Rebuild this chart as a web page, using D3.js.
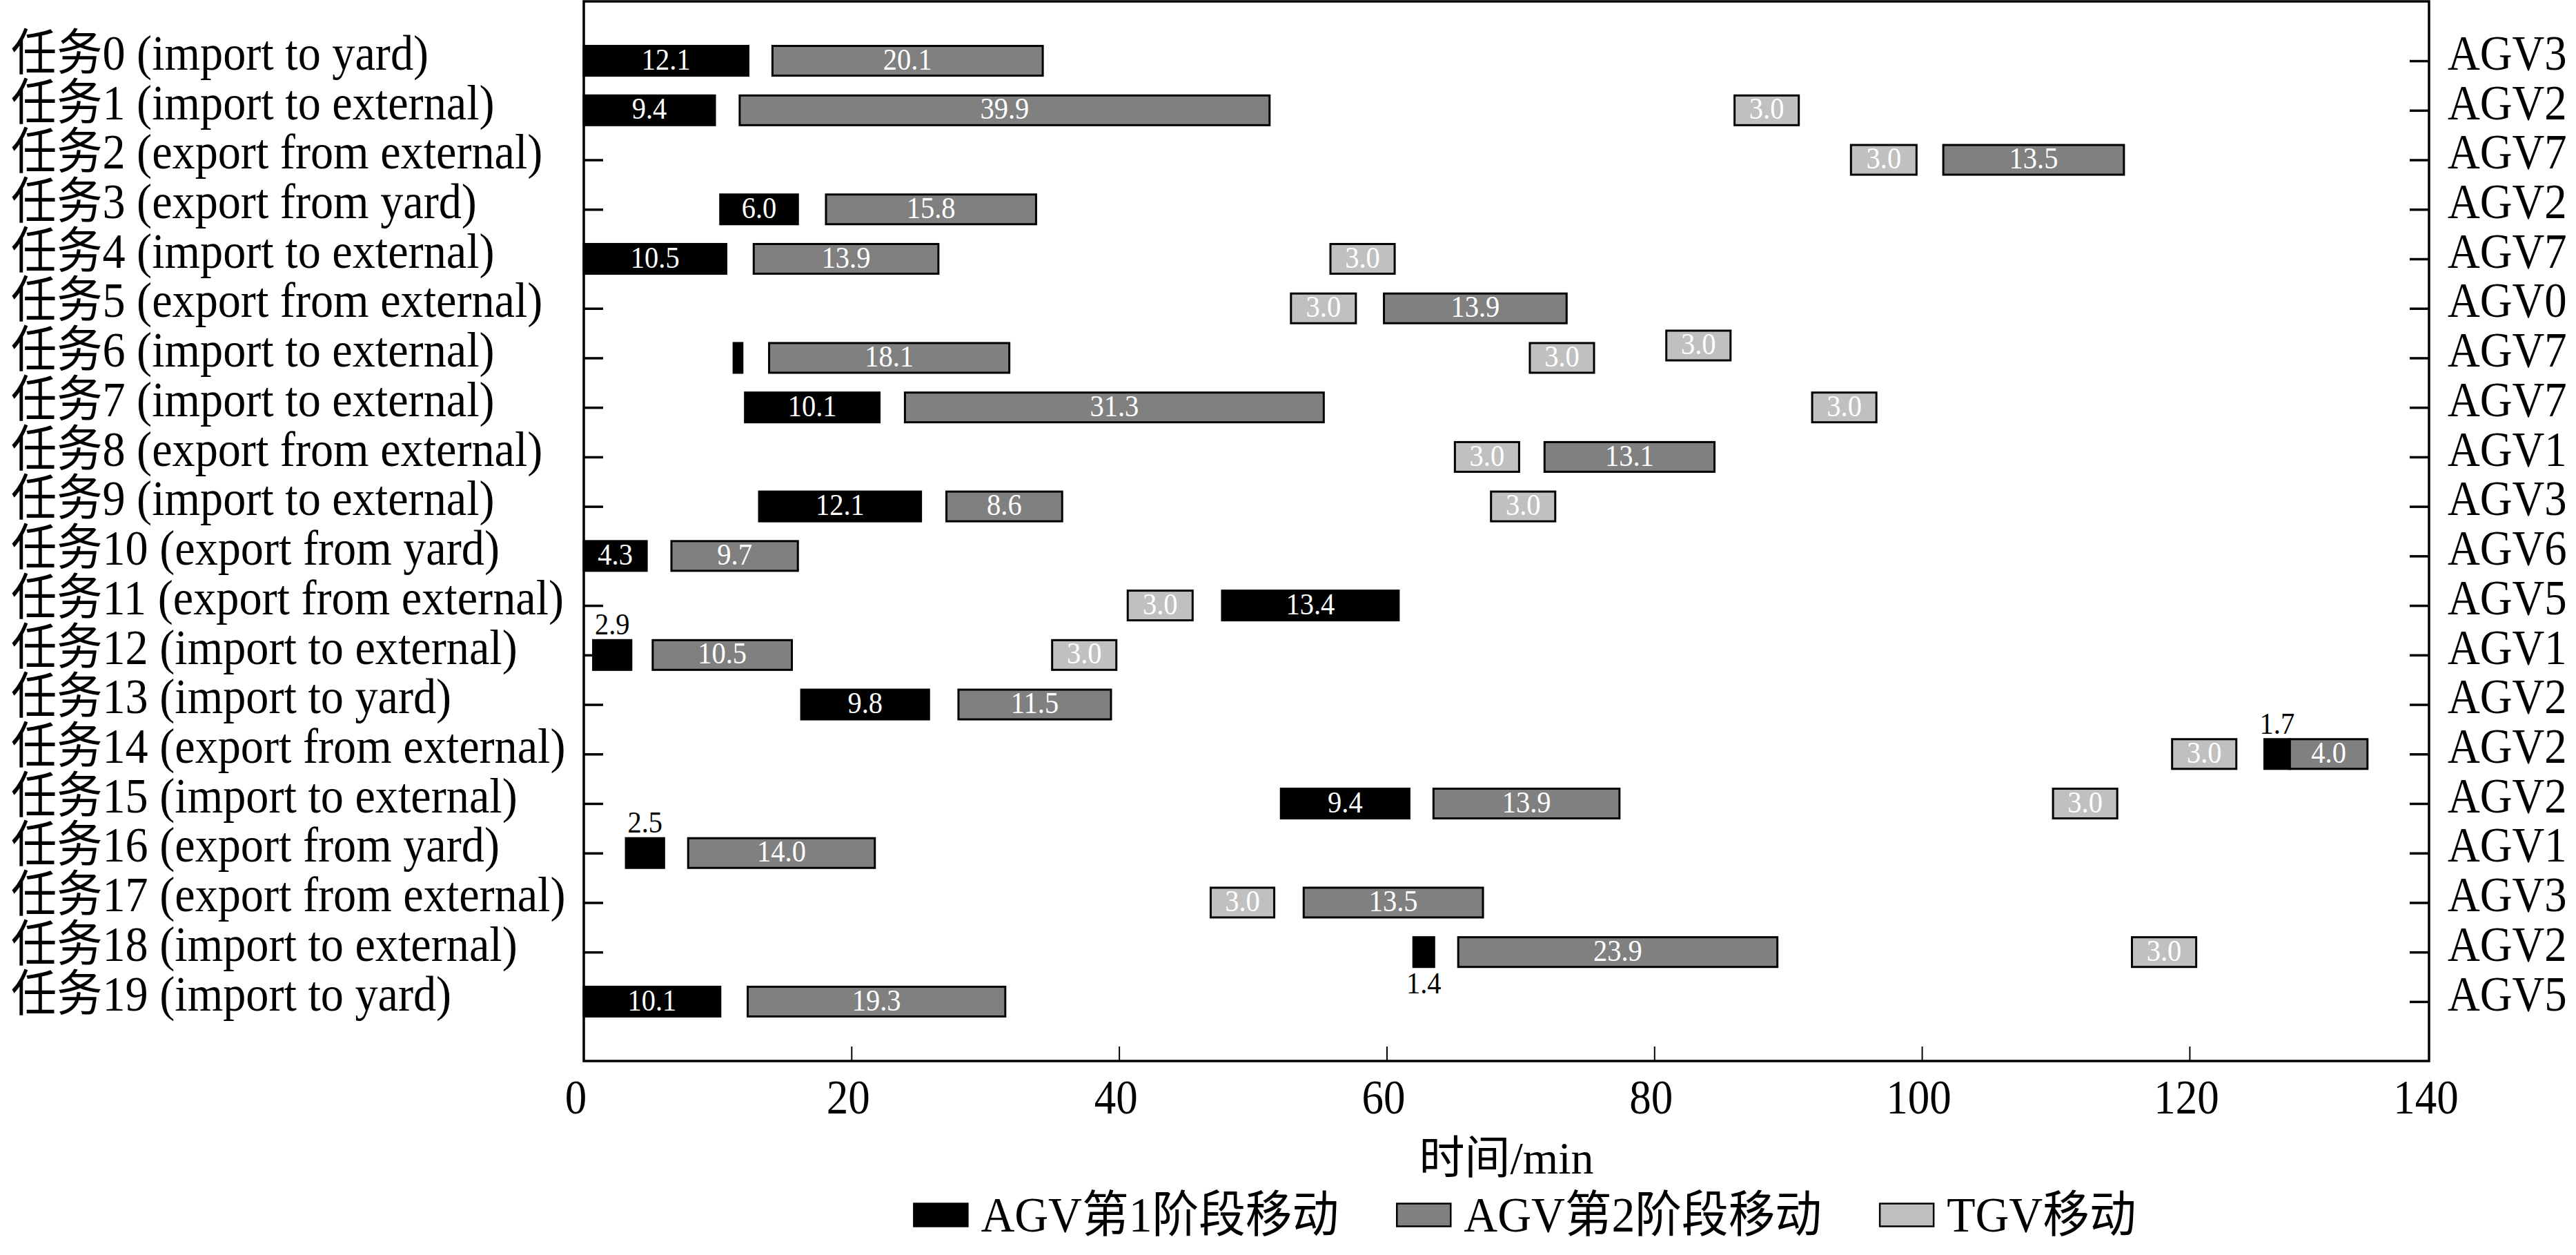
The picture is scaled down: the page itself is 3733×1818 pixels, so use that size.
<!DOCTYPE html>
<html>
<head>
<meta charset="utf-8">
<script src="https://cdn.jsdelivr.net/npm/d3@7"></script>
<style>
  body { margin: 0; background: #fff; }
</style>
</head>
<body>
<svg id="chart"></svg>
<script>
// row labels, top to bottom
const tasks = [
  '任务0 (import to yard)', '任务1 (import to external)', '任务2 (export from external)',
  '任务3 (export from yard)', '任务4 (import to external)', '任务5 (export from external)',
  '任务6 (import to external)', '任务7 (import to external)', '任务8 (export from external)',
  '任务9 (import to external)', '任务10 (export from yard)', '任务11 (export from external)',
  '任务12 (import to external)', '任务13 (import to yard)', '任务14 (export from external)',
  '任务15 (import to external)', '任务16 (export from yard)', '任务17 (export from external)',
  '任务18 (import to external)', '任务19 (import to yard)'
]
const agvs = [
  'AGV3', 'AGV2', 'AGV7', 'AGV2', 'AGV7', 'AGV0', 'AGV7', 'AGV7', 'AGV1', 'AGV3',
  'AGV6', 'AGV5', 'AGV1', 'AGV2', 'AGV2', 'AGV2', 'AGV1', 'AGV3', 'AGV2', 'AGV5'
]

// [task, start, end, label, lane shift]
const stage1 = [
  [0, 0, 12.3, 12.1], [1, 0, 9.8, 9.4], [3, 10.2, 16.0, 6.0], [4, 0, 10.65, 10.5],
  [6, 11.2, 11.85, null], [7, 12.05, 22.1, 10.1], [9, 13.1, 25.2, 12.1], [10, 0, 4.7, 4.3],
  [11, 47.7, 60.9, 13.4], [12, 0.7, 3.55, 2.9], [13, 16.25, 25.8, 9.8], [14, 125.6, 127.5, 1.7],
  [15, 52.1, 61.7, 9.4], [16, 3.15, 6.0, 2.5], [18, 62.0, 63.55, 1.4], [19, 0, 10.2, 10.1]
]
const stage2 = [
  [0, 14.1, 34.3, 20.1], [1, 11.65, 51.25, 39.9], [2, 101.6, 115.1, 13.5], [3, 18.1, 33.8, 15.8],
  [4, 12.7, 26.5, 13.9], [5, 59.8, 73.45, 13.9], [6, 13.85, 31.8, 18.1], [7, 24.0, 55.3, 31.3],
  [8, 71.8, 84.5, 13.1], [9, 27.1, 35.75, 8.6], [10, 6.55, 16.0, 9.7], [12, 5.15, 15.55, 10.5],
  [13, 28.0, 39.4, 11.5], [14, 127.5, 133.3, 4.0], [15, 63.5, 77.4, 13.9], [16, 7.8, 21.75, 14.0],
  [17, 53.8, 67.2, 13.5], [18, 65.35, 89.2, 23.9], [19, 12.25, 31.5, 19.3]
]
const tgv = [
  [1, 86.0, 90.8, 3.0], [2, 94.7, 99.6, 3.0], [4, 55.8, 60.6, 3.0], [5, 52.85, 57.7, 3.0],
  [6, 70.7, 75.5, 3.0], [6, 80.9, 85.7, 3.0, -0.25], [7, 91.8, 96.6, 3.0], [8, 65.1, 69.9, 3.0],
  [9, 67.8, 72.6, 3.0], [11, 40.65, 45.5, 3.0], [12, 35.0, 39.8, 3.0], [14, 118.7, 123.5, 3.0],
  [15, 109.8, 114.6, 3.0], [17, 46.85, 51.6, 3.0], [18, 115.7, 120.5, 3.0]
]

const xTicks = [0, 20, 40, 60, 80, 100, 120]
const xEnd = 137.9
const xEndLabel = '140'
const xTitle = '时间/min'
const legendNames = ['AGV第1阶段移动', 'AGV第2阶段移动', 'TGV移动']
const colors = ['#000000', '#808080', '#c0c0c0']

const W = 3733
const H = 1818
const plot = { left: 846, right: 3520, top: 2, bottom: 1537 }
const serif = '"Liberation Serif", "Times New Roman", "Noto Sans CJK SC", serif'
const squeezeX = 0.9

const svg = d3.select('#chart')
  .attr('width', W)
  .attr('height', H)
  .attr('font-family', serif)
svg.append('rect').attr('width', W).attr('height', H).attr('fill', '#fff')

const x = d3.scaleLinear().domain([0, xEnd]).range([plot.left, plot.right])
const y = d3.scaleLinear().domain([-1.2, 20.2]).range([plot.top, plot.bottom])
const barH = y(0.6) - y(0)

// narrow the serif text a little, the original face is condensed
function squeeze (sel, sx) {
  sel.each(function () {
    const t = d3.select(this)
    const tx = +t.attr('x') || 0
    const ty = +t.attr('y') || 0
    t.attr('x', 0).attr('y', 0)
      .attr('transform', `translate(${tx},${ty}) scale(${sx},1)`)
  })
}

const series = [stage1, stage2, tgv]
const segments = []
series.forEach((s, k) => s.forEach(d => segments.push({
  task: d[0], start: d[1], end: d[2], label: d[3], lane: d[0] + (d[4] || 0), kind: k
})))

// draw bars
const bars = svg.append('g').attr('class', 'bars')
bars.selectAll('rect').data(segments).enter().append('rect')
  .attr('x', d => x(d.start))
  .attr('y', d => y(d.lane) - barH / 2)
  .attr('width', d => x(d.end) - x(d.start))
  .attr('height', barH)
  .attr('fill', d => colors[d.kind])
  .attr('stroke', '#000')
  .attr('stroke-width', 3)

// short bars get their label above, or below when the row above is busy there
function labelSide (d) {
  const mid = (d.start + d.end) / 2
  const busy = segments.some(o => o.task === d.task - 1 && o.start <= mid && o.end >= mid)
  return busy ? 'below' : 'above'
}

const labels = svg.append('g').attr('class', 'bar-labels')
  .attr('font-size', 45)
  .attr('text-anchor', 'middle')
segments.filter(d => d.label !== null).forEach(d => {
  const cx = x((d.start + d.end) / 2)
  const cy = y(d.lane)
  const t = labels.append('text').text(d.label.toFixed(1))
  if (d.end - d.start >= 3) {
    t.attr('x', cx).attr('y', cy).attr('dy', '0.28em').attr('fill', '#fff')
  } else if (labelSide(d) === 'above') {
    t.attr('x', cx).attr('y', cy - barH / 2 - 8).attr('fill', '#000')
  } else {
    t.attr('x', cx).attr('y', cy + barH / 2 + 38).attr('fill', '#000')
  }
})
squeeze(labels.selectAll('text'), squeezeX)

// left axis: task names
const yLeft = svg.append('g')
  .attr('transform', `translate(${plot.left},0)`)
  .call(d3.axisLeft(y).tickValues(d3.range(tasks.length)).tickSize(-28).tickFormat(i => tasks[i]))
yLeft.select('.domain').remove()
yLeft.attr('font-family', serif).attr('font-size', 72)
yLeft.selectAll('line').attr('stroke', '#000').attr('stroke-width', 3.5)
yLeft.selectAll('text')
  .attr('text-anchor', 'start')
  .attr('x', 16 - plot.left)
  .attr('dy', '0.17em')
  .attr('fill', '#000')
squeeze(yLeft.selectAll('text'), 0.92)

// right axis: vehicle names
const yRight = svg.append('g')
  .attr('transform', `translate(${plot.right},0)`)
  .call(d3.axisRight(y).tickValues(d3.range(agvs.length)).tickSize(-28).tickFormat(i => agvs[i]))
yRight.select('.domain').remove()
yRight.attr('font-family', serif).attr('font-size', 72)
yRight.selectAll('line').attr('stroke', '#000').attr('stroke-width', 3.5)
yRight.selectAll('text')
  .attr('text-anchor', 'start')
  .attr('x', 27)
  .attr('dy', '0.17em')
  .attr('fill', '#000')
squeeze(yRight.selectAll('text'), squeezeX)

// bottom axis
const xAxis = svg.append('g')
  .attr('transform', `translate(0,${plot.bottom})`)
  .call(d3.axisBottom(x).tickValues([...xTicks, xEnd]).tickSize(-21)
    .tickFormat(d => d === xEnd ? xEndLabel : d))
xAxis.select('.domain').remove()
xAxis.attr('font-family', serif).attr('font-size', 70)
xAxis.selectAll('line').attr('stroke', '#000').attr('stroke-width', 2)
  .filter(d => d === xEnd || d === 0).remove()
xAxis.selectAll('text').attr('x', -5).attr('y', 76).attr('dy', null).attr('fill', '#000')
xAxis.selectAll('.tick').filter(d => d === 0).select('text').attr('x', -12)
squeeze(xAxis.selectAll('text'), squeezeX)

// frame
svg.append('rect')
  .attr('x', plot.left)
  .attr('y', plot.top)
  .attr('width', plot.right - plot.left)
  .attr('height', plot.bottom - plot.top)
  .attr('fill', 'none')
  .attr('stroke', '#000')
  .attr('stroke-width', 3.5)

// axis title
svg.append('text')
  .attr('x', (plot.left + plot.right) / 2)
  .attr('y', 1700)
  .attr('text-anchor', 'middle')
  .attr('font-size', 66)
  .text(xTitle)

// legend
const legend = svg.append('g').attr('class', 'legend').attr('font-size', 72)
const boxW = 78
const boxH = 33
const legendY = 1760
const legendSqueeze = 0.94
let lx = 0
legendNames.forEach((name, k) => {
  const g = legend.append('g')
  g.append('rect')
    .attr('x', lx).attr('y', legendY - boxH / 2)
    .attr('width', boxW).attr('height', boxH)
    .attr('fill', colors[k])
    .attr('stroke', '#000').attr('stroke-width', 2.5)
  const t = g.append('text')
    .attr('x', lx + boxW + 19)
    .attr('y', legendY + 24)
    .text(name)
  const tw = t.node().getComputedTextLength() * legendSqueeze
  squeeze(t, legendSqueeze)
  lx += boxW + 19 + tw + 84
})
const legendWidth = lx - 84
legend.attr('transform', `translate(${2210 - legendWidth / 2},0)`)
</script>
</body>
</html>
